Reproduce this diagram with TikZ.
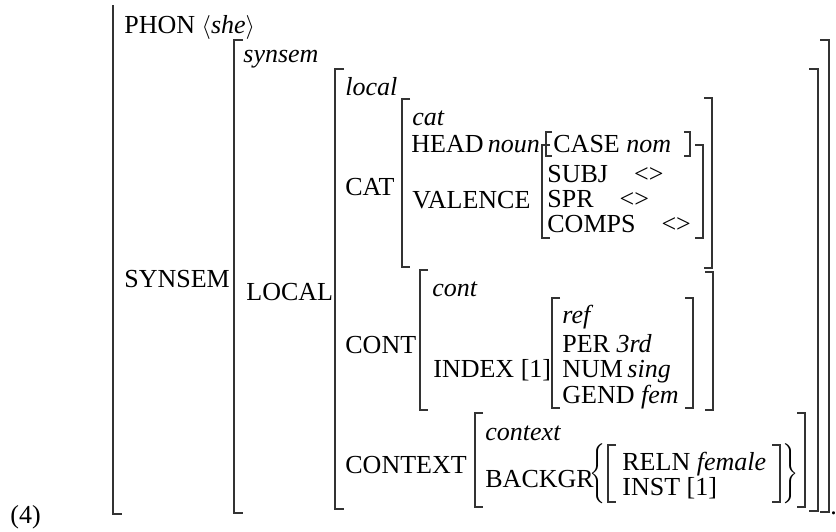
\documentclass[tikz,border=0pt]{standalone}
\usepackage{fontspec}
\setmainfont{Liberation Serif}
\usepackage{tikz}
\tikzstyle{feat}=[anchor=base west, inner sep=0pt, font=\fontsize{13}{15}\selectfont]
\tikzstyle{brak}=[line width=0.8pt, draw=black!80]
\tikzstyle{curly}=[inner sep=0pt, font=\fontsize{13}{15}\selectfont]

\begin{document}
\begin{tikzpicture}[x=0.5pt, y=-0.5pt]
	\useasboundingbox (0,0) rectangle (836,531);
	\node[feat] (num) at (10,523) {(4)};
	\node[feat] (phon) at (124,33) {PHON $\langle$\textit{she}$\rangle$};
	\node[feat] (synsemF) at (124,287) {SYNSEM};
	\node[feat] (synsemT) at (243,62) {\textit{synsem}};
	\node[feat] (localF) at (246,300) {LOCAL};
	\node[feat] (localT) at (345,95) {\textit{local}};
	\node[feat] (catF) at (345,195) {CAT};
	\node[feat] (catT) at (412,125) {\textit{cat}};
	\node[feat] (head) at (411,152) {HEAD\,\textit{noun}};
	\node[feat] (case) at (553,152) {CASE \textit{nom}};
	\node[feat] (valF) at (412,208) {VALENCE};
	\node[feat] (subj) at (547,182) {SUBJ\quad<>};
	\node[feat] (spr) at (547,207) {SPR\quad<>};
	\node[feat] (comps) at (547,232) {COMPS\quad<>};
	\node[feat] (contF) at (345,353) {CONT};
	\node[feat] (contT) at (432,296) {\textit{cont}};
	\node[feat] (index) at (433,377) {INDEX [1]};
	\node[feat] (refT) at (562,323) {\textit{ref}};
	\node[feat] (per) at (562,352) {PER \textit{3rd}};
	\node[feat] (num2) at (562,377) {NUM\,\textit{sing}};
	\node[feat] (gend) at (562,403) {GEND \textit{fem}};
	\node[feat] (ctxF) at (345,473) {CONTEXT};
	\node[feat] (ctxT) at (485,440) {\textit{context}};
	\node[feat] (backgr) at (485,487) {BACKGR};
	\node[feat] (reln) at (622,470) {RELN \textit{female}};
	\node[feat] (inst) at (622,495) {INST [1]};
	\node[curly, anchor=west] (lbrace) at (589,474) {$\left\{\vcenter{\hrule height 33pt width 0pt}\right.$};
	\node[curly, anchor=east] (rbrace) at (799,474) {$\left.\vcenter{\hrule height 33pt width 0pt}\right\}$};
	\node[feat] (stop) at (830,514) {.};
	\draw[brak] (113,5) -- (113,514) -- (122,514);
	\draw[brak] (243,40) -- (234,40) -- (234,513) -- (243,513);
	\draw[brak] (820,40) -- (829,40) -- (829,512) -- (820,512);
	\draw[brak] (344,69) -- (335,69) -- (335,509) -- (344,509);
	\draw[brak] (809,69) -- (818,69) -- (818,511) -- (809,511);
	\draw[brak] (410,99) -- (402,99) -- (402,267) -- (410,267);
	\draw[brak] (704,98) -- (712,98) -- (712,268) -- (704,268);
	\draw[brak] (552,132) -- (546,132) -- (546,156) -- (552,156);
	\draw[brak] (684,132) -- (690,132) -- (690,156) -- (684,156);
	\draw[brak] (550,145) -- (542,145) -- (542,238) -- (550,238);
	\draw[brak] (695,145) -- (703,145) -- (703,238) -- (695,238);
	\draw[brak] (428,270) -- (420,270) -- (420,410) -- (428,410);
	\draw[brak] (705,272) -- (713,272) -- (713,410) -- (705,410);
	\draw[brak] (560,298) -- (552,298) -- (552,408) -- (560,408);
	\draw[brak] (685,298) -- (693,298) -- (693,408) -- (685,408);
	\draw[brak] (483,413) -- (475,413) -- (475,507) -- (483,507);
	\draw[brak] (797,413) -- (805,413) -- (805,507) -- (797,507);
	\draw[brak] (616,445) -- (608,445) -- (608,502) -- (616,502);
	\draw[brak] (772,445) -- (780,445) -- (780,502) -- (772,502);
\end{tikzpicture}
\end{document}
